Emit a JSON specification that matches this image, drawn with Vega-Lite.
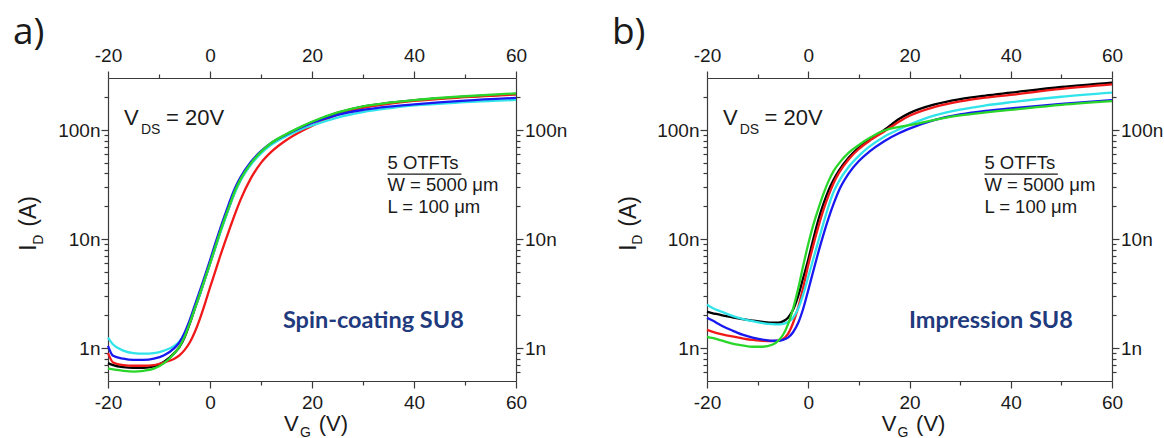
{
  "$schema": "https://vega.github.io/schema/vega-lite/v6.json",
  "padding": {"left": 12, "top": 13, "right": 0, "bottom": 0},
  "autosize": {"type": "pad"},
  "background": "white",
  "spacing": 44,
  "config": {
    "view": {"stroke": null},
    "axis": {"labelFont": "Liberation Sans", "labelFontSize": 19, "labelColor": "#1a1a1a", "domainColor": "#3a3a3a", "tickColor": "#3a3a3a", "domainWidth": 1.2, "tickWidth": 1.2, "grid": false},
    "text": {"font": "Liberation Sans", "color": "#1a1a1a"}
  },
  "datasets": {
    "curves": [
      {"p":"a","c":"k","V":-20,"I":7.3e-10},{"p":"a","c":"k","V":-19,"I":7.0e-10},{"p":"a","c":"k","V":-17,"I":6.7e-10},{"p":"a","c":"k","V":-15,"I":6.6e-10},{"p":"a","c":"k","V":-13,"I":6.6e-10},{"p":"a","c":"k","V":-11,"I":6.8e-10},{"p":"a","c":"k","V":-9,"I":7.5e-10},{"p":"a","c":"k","V":-7,"I":9.0e-10},{"p":"a","c":"k","V":-6,"I":1.02e-9},{"p":"a","c":"k","V":-5,"I":1.25e-9},{"p":"a","c":"k","V":-4,"I":1.66e-9},{"p":"a","c":"k","V":-3,"I":2.28e-9},{"p":"a","c":"k","V":-2,"I":3.1e-9},{"p":"a","c":"k","V":-1,"I":4.3e-9},{"p":"a","c":"k","V":0,"I":5.95e-9},{"p":"a","c":"k","V":1,"I":8.3e-9},{"p":"a","c":"k","V":2,"I":1.16e-8},{"p":"a","c":"k","V":3,"I":1.58e-8},{"p":"a","c":"k","V":4,"I":2.12e-8},{"p":"a","c":"k","V":5,"I":2.8e-8},{"p":"a","c":"k","V":6,"I":3.5e-8},{"p":"a","c":"k","V":8,"I":4.9e-8},{"p":"a","c":"k","V":10,"I":6.25e-8},{"p":"a","c":"k","V":12,"I":7.5e-8},{"p":"a","c":"k","V":15,"I":9.1e-8},{"p":"a","c":"k","V":18,"I":1.07e-7},{"p":"a","c":"k","V":20,"I":1.18e-7},{"p":"a","c":"k","V":25,"I":1.44e-7},{"p":"a","c":"k","V":30,"I":1.64e-7},{"p":"a","c":"k","V":35,"I":1.77e-7},{"p":"a","c":"k","V":40,"I":1.87e-7},{"p":"a","c":"k","V":50,"I":2.02e-7},{"p":"a","c":"k","V":60,"I":2.14e-7},
      {"p":"a","c":"r","V":-20,"I":9.0e-10},{"p":"a","c":"r","V":-19,"I":7.4e-10},{"p":"a","c":"r","V":-17,"I":7.0e-10},{"p":"a","c":"r","V":-15,"I":6.9e-10},{"p":"a","c":"r","V":-13,"I":6.9e-10},{"p":"a","c":"r","V":-11,"I":7.0e-10},{"p":"a","c":"r","V":-9,"I":7.4e-10},{"p":"a","c":"r","V":-7,"I":8.0e-10},{"p":"a","c":"r","V":-6,"I":8.6e-10},{"p":"a","c":"r","V":-5,"I":9.6e-10},{"p":"a","c":"r","V":-4,"I":1.12e-9},{"p":"a","c":"r","V":-3,"I":1.4e-9},{"p":"a","c":"r","V":-2,"I":1.85e-9},{"p":"a","c":"r","V":-1,"I":2.55e-9},{"p":"a","c":"r","V":0,"I":3.6e-9},{"p":"a","c":"r","V":1,"I":5.0e-9},{"p":"a","c":"r","V":2,"I":7.0e-9},{"p":"a","c":"r","V":3,"I":9.6e-9},{"p":"a","c":"r","V":4,"I":1.3e-8},{"p":"a","c":"r","V":5,"I":1.75e-8},{"p":"a","c":"r","V":6,"I":2.3e-8},{"p":"a","c":"r","V":8,"I":3.6e-8},{"p":"a","c":"r","V":10,"I":5.0e-8},{"p":"a","c":"r","V":12,"I":6.3e-8},{"p":"a","c":"r","V":15,"I":8.1e-8},{"p":"a","c":"r","V":18,"I":9.8e-8},{"p":"a","c":"r","V":20,"I":1.09e-7},{"p":"a","c":"r","V":25,"I":1.38e-7},{"p":"a","c":"r","V":30,"I":1.6e-7},{"p":"a","c":"r","V":35,"I":1.74e-7},{"p":"a","c":"r","V":40,"I":1.85e-7},{"p":"a","c":"r","V":50,"I":2.0e-7},{"p":"a","c":"r","V":60,"I":2.12e-7},
      {"p":"a","c":"c","V":-20,"I":1.25e-9},{"p":"a","c":"c","V":-19,"I":1.08e-9},{"p":"a","c":"c","V":-17,"I":9.5e-10},{"p":"a","c":"c","V":-15,"I":9.0e-10},{"p":"a","c":"c","V":-13,"I":8.9e-10},{"p":"a","c":"c","V":-11,"I":9.0e-10},{"p":"a","c":"c","V":-9,"I":9.5e-10},{"p":"a","c":"c","V":-7,"I":1.05e-9},{"p":"a","c":"c","V":-6,"I":1.15e-9},{"p":"a","c":"c","V":-5,"I":1.35e-9},{"p":"a","c":"c","V":-4,"I":1.72e-9},{"p":"a","c":"c","V":-3,"I":2.3e-9},{"p":"a","c":"c","V":-2,"I":3.1e-9},{"p":"a","c":"c","V":-1,"I":4.3e-9},{"p":"a","c":"c","V":0,"I":5.9e-9},{"p":"a","c":"c","V":1,"I":8.2e-9},{"p":"a","c":"c","V":2,"I":1.14e-8},{"p":"a","c":"c","V":3,"I":1.55e-8},{"p":"a","c":"c","V":4,"I":2.1e-8},{"p":"a","c":"c","V":5,"I":2.75e-8},{"p":"a","c":"c","V":6,"I":3.45e-8},{"p":"a","c":"c","V":8,"I":4.8e-8},{"p":"a","c":"c","V":10,"I":6.1e-8},{"p":"a","c":"c","V":12,"I":7.3e-8},{"p":"a","c":"c","V":15,"I":8.8e-8},{"p":"a","c":"c","V":18,"I":1.02e-7},{"p":"a","c":"c","V":20,"I":1.1e-7},{"p":"a","c":"c","V":25,"I":1.3e-7},{"p":"a","c":"c","V":30,"I":1.46e-7},{"p":"a","c":"c","V":35,"I":1.58e-7},{"p":"a","c":"c","V":40,"I":1.68e-7},{"p":"a","c":"c","V":50,"I":1.8e-7},{"p":"a","c":"c","V":60,"I":1.89e-7},
      {"p":"a","c":"b","V":-20,"I":1.05e-9},{"p":"a","c":"b","V":-19,"I":8.5e-10},{"p":"a","c":"b","V":-17,"I":8.0e-10},{"p":"a","c":"b","V":-15,"I":7.8e-10},{"p":"a","c":"b","V":-13,"I":7.8e-10},{"p":"a","c":"b","V":-11,"I":8.0e-10},{"p":"a","c":"b","V":-9,"I":8.6e-10},{"p":"a","c":"b","V":-7,"I":1.0e-9},{"p":"a","c":"b","V":-6,"I":1.13e-9},{"p":"a","c":"b","V":-5,"I":1.38e-9},{"p":"a","c":"b","V":-4,"I":1.8e-9},{"p":"a","c":"b","V":-3,"I":2.45e-9},{"p":"a","c":"b","V":-2,"I":3.35e-9},{"p":"a","c":"b","V":-1,"I":4.6e-9},{"p":"a","c":"b","V":0,"I":6.4e-9},{"p":"a","c":"b","V":1,"I":9.0e-9},{"p":"a","c":"b","V":2,"I":1.25e-8},{"p":"a","c":"b","V":3,"I":1.7e-8},{"p":"a","c":"b","V":4,"I":2.3e-8},{"p":"a","c":"b","V":5,"I":3.0e-8},{"p":"a","c":"b","V":6,"I":3.7e-8},{"p":"a","c":"b","V":8,"I":5.1e-8},{"p":"a","c":"b","V":10,"I":6.4e-8},{"p":"a","c":"b","V":12,"I":7.6e-8},{"p":"a","c":"b","V":15,"I":9.1e-8},{"p":"a","c":"b","V":18,"I":1.06e-7},{"p":"a","c":"b","V":20,"I":1.16e-7},{"p":"a","c":"b","V":25,"I":1.38e-7},{"p":"a","c":"b","V":30,"I":1.53e-7},{"p":"a","c":"b","V":35,"I":1.64e-7},{"p":"a","c":"b","V":40,"I":1.72e-7},{"p":"a","c":"b","V":50,"I":1.86e-7},{"p":"a","c":"b","V":60,"I":1.97e-7},
      {"p":"a","c":"g","V":-20,"I":6.5e-10},{"p":"a","c":"g","V":-19,"I":6.4e-10},{"p":"a","c":"g","V":-17,"I":6.2e-10},{"p":"a","c":"g","V":-15,"I":6.1e-10},{"p":"a","c":"g","V":-13,"I":6.2e-10},{"p":"a","c":"g","V":-11,"I":6.5e-10},{"p":"a","c":"g","V":-9,"I":7.3e-10},{"p":"a","c":"g","V":-7,"I":9.0e-10},{"p":"a","c":"g","V":-6,"I":1.03e-9},{"p":"a","c":"g","V":-5,"I":1.27e-9},{"p":"a","c":"g","V":-4,"I":1.68e-9},{"p":"a","c":"g","V":-3,"I":2.3e-9},{"p":"a","c":"g","V":-2,"I":3.15e-9},{"p":"a","c":"g","V":-1,"I":4.35e-9},{"p":"a","c":"g","V":0,"I":6.0e-9},{"p":"a","c":"g","V":1,"I":8.4e-9},{"p":"a","c":"g","V":2,"I":1.17e-8},{"p":"a","c":"g","V":3,"I":1.6e-8},{"p":"a","c":"g","V":4,"I":2.15e-8},{"p":"a","c":"g","V":5,"I":2.85e-8},{"p":"a","c":"g","V":6,"I":3.55e-8},{"p":"a","c":"g","V":8,"I":4.95e-8},{"p":"a","c":"g","V":10,"I":6.3e-8},{"p":"a","c":"g","V":12,"I":7.6e-8},{"p":"a","c":"g","V":15,"I":9.2e-8},{"p":"a","c":"g","V":18,"I":1.08e-7},{"p":"a","c":"g","V":20,"I":1.19e-7},{"p":"a","c":"g","V":25,"I":1.45e-7},{"p":"a","c":"g","V":30,"I":1.65e-7},{"p":"a","c":"g","V":35,"I":1.78e-7},{"p":"a","c":"g","V":40,"I":1.88e-7},{"p":"a","c":"g","V":50,"I":2.04e-7},{"p":"a","c":"g","V":60,"I":2.17e-7},
      {"p":"b","c":"k","V":-20,"I":2.15e-9},{"p":"b","c":"k","V":-19,"I":2.1e-9},{"p":"b","c":"k","V":-17,"I":2.0e-9},{"p":"b","c":"k","V":-15,"I":1.92e-9},{"p":"b","c":"k","V":-13,"I":1.85e-9},{"p":"b","c":"k","V":-11,"I":1.79e-9},{"p":"b","c":"k","V":-9,"I":1.74e-9},{"p":"b","c":"k","V":-7,"I":1.71e-9},{"p":"b","c":"k","V":-6,"I":1.71e-9},{"p":"b","c":"k","V":-5,"I":1.76e-9},{"p":"b","c":"k","V":-4,"I":1.9e-9},{"p":"b","c":"k","V":-3,"I":2.25e-9},{"p":"b","c":"k","V":-2,"I":3.0e-9},{"p":"b","c":"k","V":-1,"I":4.4e-9},{"p":"b","c":"k","V":0,"I":6.5e-9},{"p":"b","c":"k","V":1,"I":1.0e-8},{"p":"b","c":"k","V":2,"I":1.5e-8},{"p":"b","c":"k","V":3,"I":2.1e-8},{"p":"b","c":"k","V":4,"I":2.8e-8},{"p":"b","c":"k","V":5,"I":3.5e-8},{"p":"b","c":"k","V":6,"I":4.2e-8},{"p":"b","c":"k","V":8,"I":5.6e-8},{"p":"b","c":"k","V":10,"I":6.9e-8},{"p":"b","c":"k","V":12,"I":8.1e-8},{"p":"b","c":"k","V":15,"I":1.0e-7},{"p":"b","c":"k","V":18,"I":1.27e-7},{"p":"b","c":"k","V":20,"I":1.43e-7},{"p":"b","c":"k","V":25,"I":1.72e-7},{"p":"b","c":"k","V":30,"I":1.92e-7},{"p":"b","c":"k","V":35,"I":2.07e-7},{"p":"b","c":"k","V":40,"I":2.2e-7},{"p":"b","c":"k","V":50,"I":2.48e-7},{"p":"b","c":"k","V":60,"I":2.72e-7},
      {"p":"b","c":"r","V":-20,"I":1.47e-9},{"p":"b","c":"r","V":-19,"I":1.42e-9},{"p":"b","c":"r","V":-17,"I":1.34e-9},{"p":"b","c":"r","V":-15,"I":1.28e-9},{"p":"b","c":"r","V":-13,"I":1.23e-9},{"p":"b","c":"r","V":-11,"I":1.19e-9},{"p":"b","c":"r","V":-9,"I":1.17e-9},{"p":"b","c":"r","V":-7,"I":1.16e-9},{"p":"b","c":"r","V":-6,"I":1.17e-9},{"p":"b","c":"r","V":-5,"I":1.21e-9},{"p":"b","c":"r","V":-4,"I":1.35e-9},{"p":"b","c":"r","V":-3,"I":1.7e-9},{"p":"b","c":"r","V":-2,"I":2.35e-9},{"p":"b","c":"r","V":-1,"I":3.6e-9},{"p":"b","c":"r","V":0,"I":5.8e-9},{"p":"b","c":"r","V":1,"I":8.8e-9},{"p":"b","c":"r","V":2,"I":1.3e-8},{"p":"b","c":"r","V":3,"I":1.85e-8},{"p":"b","c":"r","V":4,"I":2.5e-8},{"p":"b","c":"r","V":5,"I":3.25e-8},{"p":"b","c":"r","V":6,"I":4.0e-8},{"p":"b","c":"r","V":8,"I":5.4e-8},{"p":"b","c":"r","V":10,"I":6.7e-8},{"p":"b","c":"r","V":12,"I":7.9e-8},{"p":"b","c":"r","V":15,"I":9.7e-8},{"p":"b","c":"r","V":18,"I":1.2e-7},{"p":"b","c":"r","V":20,"I":1.35e-7},{"p":"b","c":"r","V":25,"I":1.63e-7},{"p":"b","c":"r","V":30,"I":1.83e-7},{"p":"b","c":"r","V":35,"I":1.98e-7},{"p":"b","c":"r","V":40,"I":2.1e-7},{"p":"b","c":"r","V":50,"I":2.38e-7},{"p":"b","c":"r","V":60,"I":2.62e-7},
      {"p":"b","c":"c","V":-20,"I":2.5e-9},{"p":"b","c":"c","V":-19,"I":2.35e-9},{"p":"b","c":"c","V":-17,"I":2.15e-9},{"p":"b","c":"c","V":-15,"I":1.98e-9},{"p":"b","c":"c","V":-13,"I":1.86e-9},{"p":"b","c":"c","V":-11,"I":1.77e-9},{"p":"b","c":"c","V":-9,"I":1.7e-9},{"p":"b","c":"c","V":-7,"I":1.66e-9},{"p":"b","c":"c","V":-6,"I":1.65e-9},{"p":"b","c":"c","V":-5,"I":1.67e-9},{"p":"b","c":"c","V":-4,"I":1.74e-9},{"p":"b","c":"c","V":-3,"I":1.9e-9},{"p":"b","c":"c","V":-2,"I":2.3e-9},{"p":"b","c":"c","V":-1,"I":3.1e-9},{"p":"b","c":"c","V":0,"I":4.5e-9},{"p":"b","c":"c","V":1,"I":6.6e-9},{"p":"b","c":"c","V":2,"I":9.6e-9},{"p":"b","c":"c","V":3,"I":1.4e-8},{"p":"b","c":"c","V":4,"I":2.0e-8},{"p":"b","c":"c","V":5,"I":2.7e-8},{"p":"b","c":"c","V":6,"I":3.35e-8},{"p":"b","c":"c","V":8,"I":4.6e-8},{"p":"b","c":"c","V":10,"I":5.8e-8},{"p":"b","c":"c","V":12,"I":7.0e-8},{"p":"b","c":"c","V":15,"I":8.7e-8},{"p":"b","c":"c","V":18,"I":1.02e-7},{"p":"b","c":"c","V":20,"I":1.12e-7},{"p":"b","c":"c","V":25,"I":1.36e-7},{"p":"b","c":"c","V":30,"I":1.54e-7},{"p":"b","c":"c","V":35,"I":1.68e-7},{"p":"b","c":"c","V":40,"I":1.8e-7},{"p":"b","c":"c","V":50,"I":2.02e-7},{"p":"b","c":"c","V":60,"I":2.2e-7},
      {"p":"b","c":"b","V":-20,"I":1.9e-9},{"p":"b","c":"b","V":-19,"I":1.8e-9},{"p":"b","c":"b","V":-17,"I":1.6e-9},{"p":"b","c":"b","V":-15,"I":1.45e-9},{"p":"b","c":"b","V":-13,"I":1.33e-9},{"p":"b","c":"b","V":-11,"I":1.25e-9},{"p":"b","c":"b","V":-9,"I":1.2e-9},{"p":"b","c":"b","V":-7,"I":1.17e-9},{"p":"b","c":"b","V":-6,"I":1.17e-9},{"p":"b","c":"b","V":-5,"I":1.19e-9},{"p":"b","c":"b","V":-4,"I":1.25e-9},{"p":"b","c":"b","V":-3,"I":1.4e-9},{"p":"b","c":"b","V":-2,"I":1.7e-9},{"p":"b","c":"b","V":-1,"I":2.3e-9},{"p":"b","c":"b","V":0,"I":3.4e-9},{"p":"b","c":"b","V":1,"I":5.1e-9},{"p":"b","c":"b","V":2,"I":7.6e-9},{"p":"b","c":"b","V":3,"I":1.1e-8},{"p":"b","c":"b","V":4,"I":1.55e-8},{"p":"b","c":"b","V":5,"I":2.1e-8},{"p":"b","c":"b","V":6,"I":2.75e-8},{"p":"b","c":"b","V":8,"I":4.0e-8},{"p":"b","c":"b","V":10,"I":5.2e-8},{"p":"b","c":"b","V":12,"I":6.3e-8},{"p":"b","c":"b","V":15,"I":7.9e-8},{"p":"b","c":"b","V":18,"I":9.4e-8},{"p":"b","c":"b","V":20,"I":1.03e-7},{"p":"b","c":"b","V":25,"I":1.24e-7},{"p":"b","c":"b","V":30,"I":1.39e-7},{"p":"b","c":"b","V":35,"I":1.5e-7},{"p":"b","c":"b","V":40,"I":1.58e-7},{"p":"b","c":"b","V":50,"I":1.74e-7},{"p":"b","c":"b","V":60,"I":1.88e-7},
      {"p":"b","c":"g","V":-20,"I":1.27e-9},{"p":"b","c":"g","V":-19,"I":1.24e-9},{"p":"b","c":"g","V":-17,"I":1.17e-9},{"p":"b","c":"g","V":-15,"I":1.1e-9},{"p":"b","c":"g","V":-13,"I":1.06e-9},{"p":"b","c":"g","V":-11,"I":1.03e-9},{"p":"b","c":"g","V":-9,"I":1.03e-9},{"p":"b","c":"g","V":-7,"I":1.08e-9},{"p":"b","c":"g","V":-6,"I":1.16e-9},{"p":"b","c":"g","V":-5,"I":1.32e-9},{"p":"b","c":"g","V":-4,"I":1.65e-9},{"p":"b","c":"g","V":-3,"I":2.3e-9},{"p":"b","c":"g","V":-2,"I":3.5e-9},{"p":"b","c":"g","V":-1,"I":5.7e-9},{"p":"b","c":"g","V":0,"I":9.0e-9},{"p":"b","c":"g","V":1,"I":1.35e-8},{"p":"b","c":"g","V":2,"I":1.9e-8},{"p":"b","c":"g","V":3,"I":2.6e-8},{"p":"b","c":"g","V":4,"I":3.4e-8},{"p":"b","c":"g","V":5,"I":4.2e-8},{"p":"b","c":"g","V":6,"I":4.9e-8},{"p":"b","c":"g","V":8,"I":6.2e-8},{"p":"b","c":"g","V":10,"I":7.3e-8},{"p":"b","c":"g","V":12,"I":8.4e-8},{"p":"b","c":"g","V":15,"I":9.9e-8},{"p":"b","c":"g","V":18,"I":1.07e-7},{"p":"b","c":"g","V":20,"I":1.11e-7},{"p":"b","c":"g","V":25,"I":1.24e-7},{"p":"b","c":"g","V":30,"I":1.36e-7},{"p":"b","c":"g","V":35,"I":1.45e-7},{"p":"b","c":"g","V":40,"I":1.53e-7},{"p":"b","c":"g","V":50,"I":1.7e-7},{"p":"b","c":"g","V":60,"I":1.84e-7}
    ]
  },
  "hconcat": [
    {
      "width": 408, "height": 303,
      "data": {"name": "curves"},
      "resolve": {"axis": {"x": "independent", "y": "independent"}},
      "layer": [
        {
          "transform": [{"filter": "datum.p === 'a'"}],
          "mark": {"type": "line", "strokeWidth": 2.3, "interpolate": "monotone"},
          "encoding": {
            "x": {"field": "V", "type": "quantitative", "scale": {"domain": [-20, 60], "nice": false, "zero": false},
                  "axis": {"orient": "bottom", "title": null, "values": [-20,-10,0,10,20,30,40,50,60], "labelExpr": "datum.value % 20 === 0 ? '' + datum.value : ''", "tickSize": {"condition": {"test": "datum.value % 20 === 0", "value": 7}, "value": 4}, "labelPadding": 5, "labelOverlap": false, "labelFlush": false}},
            "y": {"field": "I", "type": "quantitative", "scale": {"type": "log", "domain": [5e-10, 3e-7], "nice": false},
                  "axis": {"orient": "left", "title": null, "values": [6e-10,7e-10,8e-10,9e-10,1e-9,2e-9,3e-9,4e-9,5e-9,6e-9,7e-9,8e-9,9e-9,1e-8,2e-8,3e-8,4e-8,5e-8,6e-8,7e-8,8e-8,9e-8,1e-7,2e-7], "labelExpr": "abs(log(datum.value)/LN10 - round(log(datum.value)/LN10)) < 0.001 ? (round(log(datum.value)/LN10) == -9 ? '1n' : (round(log(datum.value)/LN10) == -8 ? '10n' : '100n')) : ''", "tickSize": {"condition": {"test": "abs(log(datum.value)/LN10 - round(log(datum.value)/LN10)) < 0.001", "value": 7}, "value": 4}, "labelPadding": 1, "labelOverlap": false}},
            "color": {"field": "c", "type": "nominal", "scale": {"domain": ["k","r","c","b","g"], "range": ["#000000","#f01818","#30e4ea","#1818f0","#2ad62a"]}, "legend": null}
          }
        },
        {
          "transform": [{"filter": "datum.p === 'a'"}],
          "mark": {"type": "line", "opacity": 0},
          "encoding": {
            "x": {"field": "V", "type": "quantitative",
                  "axis": {"orient": "top", "title": null, "values": [-20,-10,0,10,20,30,40,50,60], "labelExpr": "datum.value % 20 === 0 ? '' + datum.value : ''", "tickSize": {"condition": {"test": "datum.value % 20 === 0", "value": 7}, "value": 4}, "labelPadding": 6, "labelOverlap": false, "labelFlush": false}},
            "y": {"field": "I", "type": "quantitative",
                  "axis": {"orient": "right", "title": null, "values": [6e-10,7e-10,8e-10,9e-10,1e-9,2e-9,3e-9,4e-9,5e-9,6e-9,7e-9,8e-9,9e-9,1e-8,2e-8,3e-8,4e-8,5e-8,6e-8,7e-8,8e-8,9e-8,1e-7,2e-7], "labelExpr": "abs(log(datum.value)/LN10 - round(log(datum.value)/LN10)) < 0.001 ? (round(log(datum.value)/LN10) == -9 ? '1n' : (round(log(datum.value)/LN10) == -8 ? '10n' : '100n')) : ''", "tickSize": {"condition": {"test": "abs(log(datum.value)/LN10 - round(log(datum.value)/LN10)) < 0.001", "value": 7}, "value": 4}, "labelPadding": 1.5, "labelOverlap": false}},
            "detail": {"field": "c", "type": "nominal"}
          }
        },
        {"data": {"values": [{}]}, "mark": {"type": "text", "text": "a)", "font": "Open Sans", "fontSize": 37, "align": "left", "baseline": "alphabetic"},
         "encoding": {"x": {"datum": -38.63, "type": "quantitative", "axis": null}, "y": {"datum": 6.21e-7, "type": "quantitative", "axis": null}}},
        {"data": {"values": [{}]}, "mark": {"type": "text", "text": "V", "fontSize": 22, "align": "left", "baseline": "alphabetic"},
         "encoding": {"x": {"datum": -16.86, "type": "quantitative", "axis": null}, "y": {"datum": 1.112e-7, "type": "quantitative", "axis": null}}},
        {"data": {"values": [{}]}, "mark": {"type": "text", "text": "DS", "fontSize": 14, "align": "left", "baseline": "alphabetic"},
         "encoding": {"x": {"datum": -13.53, "type": "quantitative", "axis": null}, "y": {"datum": 9.19e-8, "type": "quantitative", "axis": null}}},
        {"data": {"values": [{}]}, "mark": {"type": "text", "text": "= 20V", "fontSize": 22, "align": "left", "baseline": "alphabetic"},
         "encoding": {"x": {"datum": -8.63, "type": "quantitative", "axis": null}, "y": {"datum": 1.112e-7, "type": "quantitative", "axis": null}}},
        {"data": {"values": [{}]}, "mark": {"type": "text", "text": ["5 OTFTs", "W = 5000 μm", "L = 100 μm"], "fontSize": 18.5, "lineHeight": 22, "align": "left", "baseline": "alphabetic"},
         "encoding": {"x": {"datum": 34.8, "type": "quantitative", "axis": null}, "y": {"datum": 4.38e-8, "type": "quantitative", "axis": null}}},
        {"data": {"values": [{}]}, "mark": {"type": "rule", "strokeWidth": 1.3, "color": "#1a1a1a"},
         "encoding": {"x": {"datum": 34.8, "type": "quantitative", "axis": null}, "x2": {"datum": 49.3}, "y": {"datum": 3.95e-8, "type": "quantitative", "axis": null}}},
        {"data": {"values": [{}]}, "mark": {"type": "text", "text": "Spin-coating SU8", "font": "Lato", "fontWeight": "bold", "fontSize": 23.5, "color": "#1f3a7d", "align": "left", "baseline": "alphabetic"},
         "encoding": {"x": {"datum": 14.3, "type": "quantitative", "axis": null}, "y": {"datum": 1.528e-9, "type": "quantitative", "axis": null}}},
        {"data": {"values": [{}]}, "mark": {"type": "text", "text": "I", "fontSize": 23, "angle": 270, "align": "left", "baseline": "alphabetic"},
         "encoding": {"x": {"datum": -34.1, "type": "quantitative", "axis": null}, "y": {"datum": 7.83e-9, "type": "quantitative", "axis": null}}},
        {"data": {"values": [{}]}, "mark": {"type": "text", "text": "D", "fontSize": 14, "angle": 270, "align": "left", "baseline": "alphabetic"},
         "encoding": {"x": {"datum": -32.75, "type": "quantitative", "axis": null}, "y": {"datum": 8.89e-9, "type": "quantitative", "axis": null}}},
        {"data": {"values": [{}]}, "mark": {"type": "text", "text": "(A)", "fontSize": 23, "angle": 270, "align": "left", "baseline": "alphabetic"},
         "encoding": {"x": {"datum": -34.1, "type": "quantitative", "axis": null}, "y": {"datum": 1.30e-8, "type": "quantitative", "axis": null}}},
        {"data": {"values": [{}]}, "mark": {"type": "text", "text": "V", "fontSize": 22, "align": "left", "baseline": "alphabetic"},
         "encoding": {"x": {"datum": 14.5, "type": "quantitative", "axis": null}, "y": {"datum": 1.754e-10, "type": "quantitative", "axis": null}}},
        {"data": {"values": [{}]}, "mark": {"type": "text", "text": "G", "fontSize": 14, "align": "left", "baseline": "alphabetic"},
         "encoding": {"x": {"datum": 17.65, "type": "quantitative", "axis": null}, "y": {"datum": 1.545e-10, "type": "quantitative", "axis": null}}},
        {"data": {"values": [{}]}, "mark": {"type": "text", "text": "(V)", "fontSize": 22, "align": "left", "baseline": "alphabetic"},
         "encoding": {"x": {"datum": 21.3, "type": "quantitative", "axis": null}, "y": {"datum": 1.754e-10, "type": "quantitative", "axis": null}}}
      ]
    },
    {
      "width": 405, "height": 303,
      "data": {"name": "curves"},
      "resolve": {"axis": {"x": "independent", "y": "independent"}},
      "layer": [
        {
          "transform": [{"filter": "datum.p === 'b'"}],
          "mark": {"type": "line", "strokeWidth": 2.3, "interpolate": "monotone"},
          "encoding": {
            "x": {"field": "V", "type": "quantitative", "scale": {"domain": [-20, 60], "nice": false, "zero": false},
                  "axis": {"orient": "bottom", "title": null, "values": [-20,-10,0,10,20,30,40,50,60], "labelExpr": "datum.value % 20 === 0 ? '' + datum.value : ''", "tickSize": {"condition": {"test": "datum.value % 20 === 0", "value": 7}, "value": 4}, "labelPadding": 5, "labelOverlap": false, "labelFlush": false}},
            "y": {"field": "I", "type": "quantitative", "scale": {"type": "log", "domain": [5e-10, 3e-7], "nice": false},
                  "axis": {"orient": "left", "title": null, "values": [6e-10,7e-10,8e-10,9e-10,1e-9,2e-9,3e-9,4e-9,5e-9,6e-9,7e-9,8e-9,9e-9,1e-8,2e-8,3e-8,4e-8,5e-8,6e-8,7e-8,8e-8,9e-8,1e-7,2e-7], "labelExpr": "abs(log(datum.value)/LN10 - round(log(datum.value)/LN10)) < 0.001 ? (round(log(datum.value)/LN10) == -9 ? '1n' : (round(log(datum.value)/LN10) == -8 ? '10n' : '100n')) : ''", "tickSize": {"condition": {"test": "abs(log(datum.value)/LN10 - round(log(datum.value)/LN10)) < 0.001", "value": 7}, "value": 4}, "labelPadding": 1, "labelOverlap": false}},
            "color": {"field": "c", "type": "nominal", "scale": {"domain": ["k","r","c","b","g"], "range": ["#000000","#f01818","#30e4ea","#1818f0","#2ad62a"]}, "legend": null}
          }
        },
        {
          "transform": [{"filter": "datum.p === 'b'"}],
          "mark": {"type": "line", "opacity": 0},
          "encoding": {
            "x": {"field": "V", "type": "quantitative",
                  "axis": {"orient": "top", "title": null, "values": [-20,-10,0,10,20,30,40,50,60], "labelExpr": "datum.value % 20 === 0 ? '' + datum.value : ''", "tickSize": {"condition": {"test": "datum.value % 20 === 0", "value": 7}, "value": 4}, "labelPadding": 6, "labelOverlap": false, "labelFlush": false}},
            "y": {"field": "I", "type": "quantitative",
                  "axis": {"orient": "right", "title": null, "values": [6e-10,7e-10,8e-10,9e-10,1e-9,2e-9,3e-9,4e-9,5e-9,6e-9,7e-9,8e-9,9e-9,1e-8,2e-8,3e-8,4e-8,5e-8,6e-8,7e-8,8e-8,9e-8,1e-7,2e-7], "labelExpr": "abs(log(datum.value)/LN10 - round(log(datum.value)/LN10)) < 0.001 ? (round(log(datum.value)/LN10) == -9 ? '1n' : (round(log(datum.value)/LN10) == -8 ? '10n' : '100n')) : ''", "tickSize": {"condition": {"test": "abs(log(datum.value)/LN10 - round(log(datum.value)/LN10)) < 0.001", "value": 7}, "value": 4}, "labelPadding": 1.5, "labelOverlap": false}},
            "detail": {"field": "c", "type": "nominal"}
          }
        },
        {"data": {"values": [{}]}, "mark": {"type": "text", "text": "b)", "font": "Open Sans", "fontSize": 37, "align": "left", "baseline": "alphabetic"},
         "encoding": {"x": {"datum": -38.77, "type": "quantitative", "axis": null}, "y": {"datum": 6.21e-7, "type": "quantitative", "axis": null}}},
        {"data": {"values": [{}]}, "mark": {"type": "text", "text": "V", "fontSize": 22, "align": "left", "baseline": "alphabetic"},
         "encoding": {"x": {"datum": -16.86, "type": "quantitative", "axis": null}, "y": {"datum": 1.112e-7, "type": "quantitative", "axis": null}}},
        {"data": {"values": [{}]}, "mark": {"type": "text", "text": "DS", "fontSize": 14, "align": "left", "baseline": "alphabetic"},
         "encoding": {"x": {"datum": -13.53, "type": "quantitative", "axis": null}, "y": {"datum": 9.19e-8, "type": "quantitative", "axis": null}}},
        {"data": {"values": [{}]}, "mark": {"type": "text", "text": "= 20V", "fontSize": 22, "align": "left", "baseline": "alphabetic"},
         "encoding": {"x": {"datum": -8.63, "type": "quantitative", "axis": null}, "y": {"datum": 1.112e-7, "type": "quantitative", "axis": null}}},
        {"data": {"values": [{}]}, "mark": {"type": "text", "text": ["5 OTFTs", "W = 5000 μm", "L = 100 μm"], "fontSize": 18.5, "lineHeight": 22, "align": "left", "baseline": "alphabetic"},
         "encoding": {"x": {"datum": 34.8, "type": "quantitative", "axis": null}, "y": {"datum": 4.38e-8, "type": "quantitative", "axis": null}}},
        {"data": {"values": [{}]}, "mark": {"type": "rule", "strokeWidth": 1.3, "color": "#1a1a1a"},
         "encoding": {"x": {"datum": 34.8, "type": "quantitative", "axis": null}, "x2": {"datum": 49.3}, "y": {"datum": 3.95e-8, "type": "quantitative", "axis": null}}},
        {"data": {"values": [{}]}, "mark": {"type": "text", "text": "Impression SU8", "font": "Lato", "fontWeight": "bold", "fontSize": 23.5, "color": "#1f3a7d", "align": "left", "baseline": "alphabetic"},
         "encoding": {"x": {"datum": 19.9, "type": "quantitative", "axis": null}, "y": {"datum": 1.528e-9, "type": "quantitative", "axis": null}}},
        {"data": {"values": [{}]}, "mark": {"type": "text", "text": "I", "fontSize": 23, "angle": 270, "align": "left", "baseline": "alphabetic"},
         "encoding": {"x": {"datum": -34.1, "type": "quantitative", "axis": null}, "y": {"datum": 7.83e-9, "type": "quantitative", "axis": null}}},
        {"data": {"values": [{}]}, "mark": {"type": "text", "text": "D", "fontSize": 14, "angle": 270, "align": "left", "baseline": "alphabetic"},
         "encoding": {"x": {"datum": -32.75, "type": "quantitative", "axis": null}, "y": {"datum": 8.89e-9, "type": "quantitative", "axis": null}}},
        {"data": {"values": [{}]}, "mark": {"type": "text", "text": "(A)", "fontSize": 23, "angle": 270, "align": "left", "baseline": "alphabetic"},
         "encoding": {"x": {"datum": -34.1, "type": "quantitative", "axis": null}, "y": {"datum": 1.30e-8, "type": "quantitative", "axis": null}}},
        {"data": {"values": [{}]}, "mark": {"type": "text", "text": "V", "fontSize": 22, "align": "left", "baseline": "alphabetic"},
         "encoding": {"x": {"datum": 14.5, "type": "quantitative", "axis": null}, "y": {"datum": 1.754e-10, "type": "quantitative", "axis": null}}},
        {"data": {"values": [{}]}, "mark": {"type": "text", "text": "G", "fontSize": 14, "align": "left", "baseline": "alphabetic"},
         "encoding": {"x": {"datum": 17.65, "type": "quantitative", "axis": null}, "y": {"datum": 1.545e-10, "type": "quantitative", "axis": null}}},
        {"data": {"values": [{}]}, "mark": {"type": "text", "text": "(V)", "fontSize": 22, "align": "left", "baseline": "alphabetic"},
         "encoding": {"x": {"datum": 21.3, "type": "quantitative", "axis": null}, "y": {"datum": 1.754e-10, "type": "quantitative", "axis": null}}}
      ]
    }
  ]
}
